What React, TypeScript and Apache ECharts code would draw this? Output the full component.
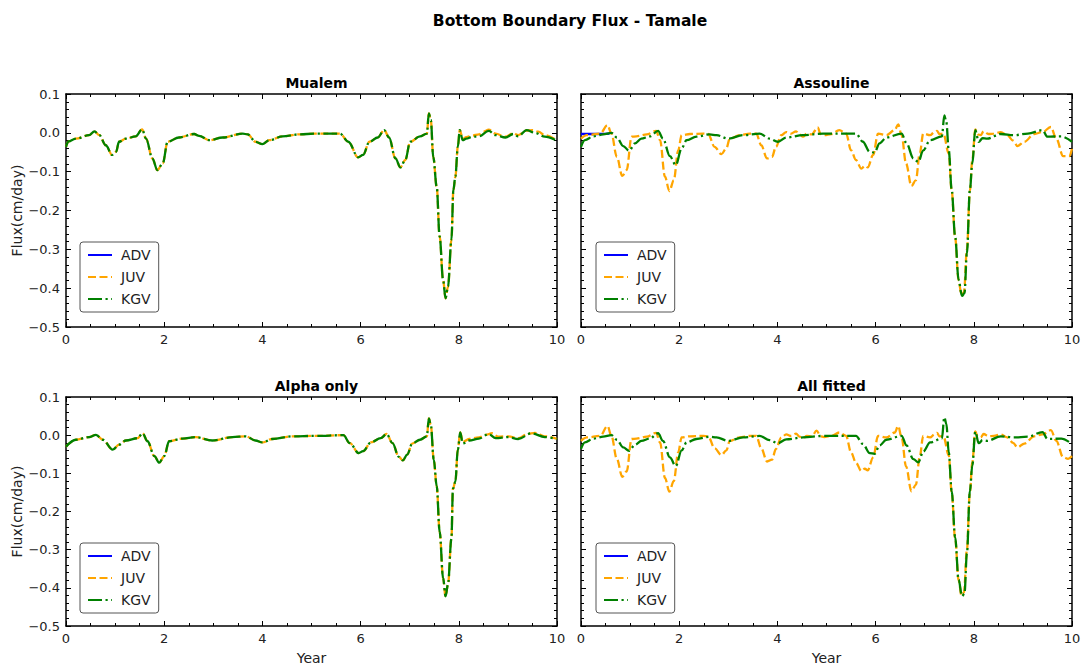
import React, { useEffect, useRef } from 'react';
import * as echarts from 'echarts';

const mainTitle = 'Bottom Boundary Flux - Tamale';
const panelTitles = ['Mualem', 'Assouline', 'Alpha only', 'All fitted'];
const seriesNames = ['ADV', 'JUV', 'KGV'];
const xLabel = 'Year';
const yLabel = 'Flux(cm/day)';
const xRange = [0, 10];
const yRange = [-0.5, 0.1];

// ---- Mualem ----
const mualemADV: number[][] = [];
const mualemKGV = [[0,-0.036],[0.05,-0.022],[0.2,-0.015],[0.47,-0.006],[0.58,0.004],[0.68,-0.006],[0.81,-0.032],[0.94,-0.057],[1.02,-0.049],[1.08,-0.023],[1.22,-0.015],[1.42,-0.009],[1.55,0.009],[1.63,-0.015],[1.76,-0.066],[1.86,-0.096],[1.97,-0.079],[2.07,-0.023],[2.3,-0.012],[2.61,-0.003],[2.71,-0.008],[2.92,-0.019],[3.19,-0.012],[3.6,-0.002],[3.7,-0.004],[3.86,-0.023],[4.0,-0.029],[4.14,-0.019],[4.41,-0.009],[4.75,-0.004],[5.08,-0.002],[5.58,-0.002],[5.75,-0.023],[5.95,-0.063],[6.05,-0.057],[6.18,-0.023],[6.35,-0.012],[6.48,0.007],[6.58,-0.012],[6.71,-0.066],[6.81,-0.089],[6.91,-0.07],[7.01,-0.023],[7.21,-0.009],[7.35,-0.002],[7.39,0.05],[7.43,0.033],[7.48,-0.062],[7.55,-0.139],[7.61,-0.267],[7.68,-0.379],[7.73,-0.426],[7.78,-0.396],[7.85,-0.276],[7.89,-0.147],[7.93,-0.113],[7.98,-0.036],[8.02,0.007],[8.08,-0.019],[8.15,-0.015],[8.28,-0.01],[8.41,-0.009],[8.61,0.005],[8.75,-0.006],[8.95,-0.012],[9.11,-0.003],[9.21,-0.009],[9.38,0.007],[9.55,0],[9.75,-0.01],[10,-0.02]];
const mualemJUV = [[0,-0.036],[0.05,-0.022],[0.2,-0.015],[0.47,-0.006],[0.58,0.004],[0.68,-0.006],[0.81,-0.032],[0.94,-0.057],[1.02,-0.049],[1.08,-0.023],[1.22,-0.015],[1.42,-0.009],[1.55,0.009],[1.63,-0.015],[1.76,-0.066],[1.86,-0.096],[1.97,-0.079],[2.07,-0.023],[2.3,-0.012],[2.61,-0.003],[2.71,-0.008],[2.92,-0.019],[3.19,-0.012],[3.6,-0.002],[3.7,-0.004],[3.86,-0.023],[4.0,-0.029],[4.14,-0.019],[4.41,-0.009],[4.75,-0.004],[5.08,-0.002],[5.58,-0.002],[5.75,-0.023],[5.95,-0.063],[6.05,-0.057],[6.18,-0.023],[6.35,-0.012],[6.48,0.007],[6.58,-0.012],[6.71,-0.066],[6.81,-0.089],[6.91,-0.07],[7.01,-0.023],[7.21,-0.009],[7.35,-0.002],[7.39,0.05],[7.43,0.033],[7.48,-0.062],[7.55,-0.139],[7.61,-0.267],[7.68,-0.379],[7.73,-0.426],[7.78,-0.396],[7.85,-0.276],[7.89,-0.147],[7.93,-0.113],[7.98,-0.036],[8.02,0.007],[8.08,-0.016],[8.15,-0.011],[8.28,-0.007],[8.41,-0.004],[8.5,0.003],[8.61,0.008],[8.75,-0.002],[8.95,-0.01],[9.11,-0.001],[9.21,-0.006],[9.38,0.006],[9.5,0.007],[9.62,0.003],[9.75,-0.006],[10,-0.02]];

// ---- Assouline ----
const assoulineADV = [[0,-0.003],[0.3,-0.003],[0.58,-0.002]];
const assoulineJUV = [[0,-0.015],[0.12,-0.006],[0.39,-0.002],[0.54,0.02],[0.62,-0.002],[0.73,-0.062],[0.84,-0.111],[0.93,-0.096],[1.03,-0.01],[1.13,-0.009],[1.34,-0.004],[1.53,0.005],[1.61,-0.019],[1.71,-0.113],[1.8,-0.15],[1.89,-0.122],[1.98,-0.045],[2.05,-0.006],[2.22,-0.003],[2.49,-0.002],[2.59,-0.003],[2.72,-0.036],[2.86,-0.055],[2.96,-0.04],[3.03,-0.015],[3.23,-0.006],[3.44,-0.002],[3.57,-0.002],[3.67,-0.032],[3.79,-0.066],[3.89,-0.062],[3.97,-0.036],[4.08,-0.006],[4.18,0.002],[4.28,-0.002],[4.38,0.004],[4.45,-0.004],[4.52,-0.01],[4.6,-0.002],[4.7,-0.004],[4.82,0.014],[4.88,-0.003],[4.95,-0.006],[5.1,-0.003],[5.26,0.007],[5.4,-0.002],[5.5,-0.045],[5.6,-0.07],[5.71,-0.092],[5.78,-0.085],[5.84,-0.089],[5.95,-0.057],[6.05,-0.002],[6.22,-0.006],[6.39,0.007],[6.46,0.022],[6.53,-0.006],[6.62,-0.079],[6.73,-0.137],[6.82,-0.122],[6.9,-0.053],[6.97,-0.002],[7.11,-0.006],[7.2,0.002],[7.25,0.005],[7.3,-0.003],[7.38,-0.002],[7.49,-0.053],[7.55,-0.15],[7.62,-0.27],[7.69,-0.38],[7.75,-0.418],[7.8,-0.41],[7.86,-0.3],[7.92,-0.15],[7.97,-0.07],[8.03,0.009],[8.08,-0.004],[8.14,-0.006],[8.2,0.004],[8.3,-0.003],[8.41,-0.002],[8.55,0.002],[8.68,-0.006],[8.8,-0.02],[8.89,-0.034],[9.03,-0.023],[9.23,-0.003],[9.4,0.002],[9.57,0.015],[9.68,-0.015],[9.82,-0.06],[9.95,-0.06],[10,-0.04]];
const assoulineKGV = [[0,-0.036],[0.08,-0.019],[0.25,-0.009],[0.45,-0.004],[0.62,0],[0.73,-0.012],[0.86,-0.034],[0.98,-0.046],[1.1,-0.027],[1.23,-0.015],[1.4,-0.009],[1.57,0.005],[1.67,-0.015],[1.81,-0.06],[1.93,-0.083],[2.05,-0.04],[2.15,-0.019],[2.35,-0.01],[2.62,-0.004],[2.76,-0.006],[3.0,-0.015],[3.3,-0.006],[3.64,-0.002],[3.84,-0.015],[4.01,-0.023],[4.18,-0.012],[4.52,-0.006],[4.93,-0.002],[5.6,-0.002],[5.74,-0.023],[5.88,-0.049],[5.98,-0.051],[6.08,-0.027],[6.22,-0.012],[6.53,-0.002],[6.63,-0.027],[6.77,-0.066],[6.87,-0.075],[6.97,-0.045],[7.11,-0.019],[7.35,-0.009],[7.4,0.045],[7.44,0.028],[7.49,-0.045],[7.55,-0.147],[7.62,-0.267],[7.69,-0.379],[7.76,-0.42],[7.81,-0.413],[7.86,-0.31],[7.92,-0.147],[7.97,-0.079],[8.03,0.007],[8.1,-0.023],[8.18,-0.014],[8.27,-0.015],[8.55,-0.003],[8.82,-0.006],[9.1,-0.002],[9.4,0.007],[9.5,-0.01],[9.78,-0.009],[10,-0.023]];

// ---- Alpha only ----
const alphaADV: number[][] = [];
const alphaKGV = [[0,-0.03],[0.2,-0.012],[0.47,-0.005],[0.61,0.001],[0.75,-0.012],[0.95,-0.038],[1.08,-0.025],[1.22,-0.014],[1.46,-0.008],[1.56,0.005],[1.66,-0.016],[1.8,-0.055],[1.9,-0.072],[2.0,-0.055],[2.1,-0.016],[2.37,-0.009],[2.64,-0.005],[2.98,-0.014],[3.39,-0.005],[3.66,-0.003],[3.86,-0.014],[4.0,-0.019],[4.2,-0.01],[4.61,-0.003],[5.08,-0.002],[5.65,0],[5.78,-0.021],[5.96,-0.047],[6.05,-0.042],[6.21,-0.019],[6.41,-0.008],[6.53,0.003],[6.65,-0.021],[6.78,-0.057],[6.86,-0.066],[6.95,-0.051],[7.05,-0.022],[7.21,-0.012],[7.35,-0.003],[7.39,0.044],[7.43,0.027],[7.49,-0.064],[7.55,-0.133],[7.61,-0.253],[7.68,-0.374],[7.73,-0.422],[7.78,-0.391],[7.85,-0.271],[7.88,-0.141],[7.93,-0.122],[7.98,-0.038],[8.03,0.007],[8.08,-0.022],[8.21,-0.014],[8.41,-0.009],[8.61,0.003],[8.75,-0.008],[9.01,-0.005],[9.21,-0.01],[9.48,0.005],[9.75,-0.005],[10,-0.01]];
const alphaJUV = [[0,-0.03],[0.2,-0.012],[0.47,-0.005],[0.61,0.001],[0.75,-0.012],[0.95,-0.038],[1.08,-0.025],[1.22,-0.014],[1.46,-0.008],[1.56,0.005],[1.66,-0.016],[1.8,-0.055],[1.9,-0.072],[2.0,-0.055],[2.1,-0.016],[2.37,-0.009],[2.64,-0.005],[2.98,-0.014],[3.39,-0.005],[3.66,-0.003],[3.86,-0.014],[4.0,-0.019],[4.2,-0.01],[4.61,-0.003],[5.08,-0.002],[5.65,0],[5.78,-0.021],[5.96,-0.047],[6.05,-0.042],[6.21,-0.019],[6.41,-0.008],[6.53,0.003],[6.65,-0.021],[6.78,-0.057],[6.86,-0.066],[6.95,-0.051],[7.05,-0.022],[7.21,-0.012],[7.35,-0.003],[7.39,0.044],[7.43,0.027],[7.49,-0.064],[7.55,-0.133],[7.61,-0.253],[7.68,-0.374],[7.73,-0.422],[7.78,-0.391],[7.85,-0.271],[7.88,-0.141],[7.93,-0.122],[7.98,-0.038],[8.03,0.007],[8.08,-0.018],[8.21,-0.01],[8.41,-0.006],[8.55,0.001],[8.68,0.005],[8.8,-0.004],[9.01,-0.003],[9.21,-0.008],[9.4,0.003],[9.55,0.006],[9.75,-0.003],[10,-0.01]];

// ---- All fitted ----
const allFittedADV: number[][] = [];
const allFittedJUV = [[0,-0.015],[0.12,-0.006],[0.39,-0.002],[0.54,0.024],[0.62,-0.002],[0.73,-0.062],[0.84,-0.109],[0.93,-0.095],[1.03,-0.01],[1.13,-0.009],[1.34,-0.004],[1.53,0.006],[1.61,-0.019],[1.71,-0.112],[1.8,-0.148],[1.89,-0.12],[1.98,-0.045],[2.05,-0.006],[2.22,-0.003],[2.49,-0.002],[2.59,-0.003],[2.72,-0.034],[2.86,-0.052],[2.96,-0.04],[3.03,-0.015],[3.23,-0.006],[3.44,-0.002],[3.57,-0.002],[3.67,-0.034],[3.79,-0.069],[3.89,-0.064],[3.97,-0.036],[4.08,-0.006],[4.18,0.002],[4.28,-0.002],[4.38,0.004],[4.45,-0.004],[4.52,-0.008],[4.6,-0.002],[4.7,-0.003],[4.8,0.012],[4.88,-0.003],[4.95,-0.005],[5.1,-0.002],[5.26,0.007],[5.4,-0.002],[5.5,-0.045],[5.6,-0.072],[5.71,-0.094],[5.78,-0.088],[5.84,-0.092],[5.95,-0.058],[6.05,-0.002],[6.22,-0.006],[6.39,0.007],[6.46,0.024],[6.53,-0.006],[6.62,-0.082],[6.73,-0.147],[6.82,-0.13],[6.9,-0.055],[6.97,-0.002],[7.11,-0.006],[7.2,0.002],[7.25,0.006],[7.3,-0.003],[7.38,-0.002],[7.49,-0.053],[7.55,-0.15],[7.62,-0.27],[7.69,-0.38],[7.75,-0.42],[7.8,-0.412],[7.86,-0.3],[7.92,-0.15],[7.97,-0.07],[8.03,0.01],[8.08,-0.004],[8.14,-0.006],[8.2,0.003],[8.3,-0.003],[8.41,-0.002],[8.55,0.002],[8.68,-0.006],[8.8,-0.02],[8.89,-0.032],[9.03,-0.022],[9.23,-0.003],[9.4,0.002],[9.57,0.013],[9.68,-0.015],[9.82,-0.058],[9.92,-0.062],[10,-0.055]];
const allFittedKGV = [[0,-0.036],[0.08,-0.019],[0.25,-0.009],[0.45,-0.004],[0.62,0],[0.73,-0.012],[0.86,-0.032],[0.98,-0.041],[1.1,-0.025],[1.23,-0.015],[1.4,-0.009],[1.57,0.005],[1.67,-0.015],[1.81,-0.058],[1.93,-0.081],[2.05,-0.04],[2.15,-0.019],[2.35,-0.01],[2.62,-0.004],[2.76,-0.006],[3.0,-0.015],[3.3,-0.006],[3.64,-0.002],[3.84,-0.013],[4.01,-0.021],[4.18,-0.011],[4.52,-0.006],[4.93,-0.002],[5.6,-0.002],[5.74,-0.023],[5.88,-0.047],[5.98,-0.049],[6.08,-0.027],[6.22,-0.012],[6.53,-0.002],[6.63,-0.027],[6.77,-0.063],[6.87,-0.071],[6.97,-0.043],[7.11,-0.019],[7.35,-0.009],[7.4,0.047],[7.44,0.03],[7.49,-0.045],[7.55,-0.147],[7.62,-0.267],[7.69,-0.379],[7.76,-0.422],[7.81,-0.415],[7.86,-0.31],[7.92,-0.147],[7.97,-0.079],[8.03,0.009],[8.1,-0.021],[8.18,-0.013],[8.27,-0.015],[8.55,-0.003],[8.82,-0.006],[9.1,-0.004],[9.4,0.008],[9.5,-0.01],[9.78,-0.009],[10,-0.023]];

const panelData = [
  [mualemADV, mualemJUV, mualemKGV],
  [assoulineADV, assoulineJUV, assoulineKGV],
  [alphaADV, alphaJUV, alphaKGV],
  [allFittedADV, allFittedJUV, allFittedKGV],
];

const colors = ['#0000ff', '#ffa500', '#008000'];
const dashes: any[] = ['solid', [8, 3.5], [14, 3.5, 2.2, 3.5]];

const FONT = 'DejaVu Sans';

export default function App() {
  const ref = useRef<HTMLDivElement>(null);
  useEffect(() => {
    if (!ref.current) return;
    const chart = echarts.init(ref.current, null, { renderer: 'svg' });

    const grids = [
      { left: 66, top: 94, width: 491, height: 233 },
      { left: 581, top: 94, width: 491, height: 233 },
      { left: 66, top: 397, width: 491, height: 232 },
      { left: 581, top: 397, width: 491, height: 232 },
    ];
    const legendPos = [
      { left: 80, top: 242 },
      { left: 596, top: 242 },
      { left: 80, top: 543 },
      { left: 596, top: 543 },
    ];

    const yFmt = (v: number) => {
      const r = Math.round(v * 10) / 10;
      if (Math.abs(r) < 1e-9) return '0.0';
      return r.toFixed(1).replace('-', '\u2212');
    };

    const axisLine = { show: true, onZero: false, lineStyle: { color: '#000', width: 1.5 } };
    const tick = { show: true, inside: true, length: 5, lineStyle: { color: '#000', width: 1 } };
    const minor = (n: number) => ({ show: true, splitNumber: n, length: 3, lineStyle: { color: '#000', width: 1 } });

    const xAxis: any[] = [];
    const yAxis: any[] = [];
    const series: any[] = [];
    grids.forEach((g, i) => {
      xAxis.push({
        type: 'value', gridIndex: i, position: 'bottom', min: xRange[0], max: xRange[1], interval: 2,
        axisLine, axisTick: tick, minorTick: minor(4), splitLine: { show: false },
        axisLabel: { show: true, fontSize: 13, color: '#222', fontFamily: FONT, margin: 6 },
        name: i >= 2 ? xLabel : '', nameLocation: 'middle', nameGap: 25,
        nameTextStyle: { fontSize: 14, color: '#222', fontFamily: FONT },
      });
      xAxis.push({
        type: 'value', gridIndex: i, position: 'top', min: xRange[0], max: xRange[1], interval: 2,
        axisLine, axisTick: tick, minorTick: minor(4), splitLine: { show: false },
        axisLabel: { show: false },
      });
      yAxis.push({
        type: 'value', gridIndex: i, position: 'left', min: yRange[0], max: yRange[1], interval: 0.1,
        axisLine, axisTick: tick, minorTick: minor(5), splitLine: { show: false },
        axisLabel: { show: i % 2 === 0, fontSize: 13, color: '#222', fontFamily: FONT, margin: 6, formatter: yFmt },
        name: i % 2 === 0 ? yLabel : '', nameLocation: 'middle', nameGap: 42,
        nameTextStyle: { fontSize: 14, color: '#222', fontFamily: FONT },
      });
      yAxis.push({
        type: 'value', gridIndex: i, position: 'right', min: yRange[0], max: yRange[1], interval: 0.1,
        axisLine, axisTick: tick, minorTick: minor(5), splitLine: { show: false },
        axisLabel: { show: false },
      });
      panelData[i].forEach((d, k) => {
        series.push({
          type: 'line', name: seriesNames[k], data: d,
          xAxisIndex: i * 2, yAxisIndex: i * 2,
          symbol: 'none', smooth: 0.35, smoothMonotone: 'x',
          lineStyle: { color: colors[k], width: 2.3, type: dashes[k] },
          itemStyle: { color: colors[k] },
          z: 2 + k,
        });
      });
    });

    const titles: any[] = [
      { text: mainTitle, left: 565, top: 8, textAlign: 'center',
        textStyle: { fontSize: 15.5, fontWeight: 'bold', color: '#000', fontFamily: FONT } },
    ];
    panelTitles.forEach((t, i) => {
      titles.push({
        text: t, left: grids[i].left + grids[i].width / 2, top: grids[i].top - 23, textAlign: 'center',
        textStyle: { fontSize: 14, fontWeight: 'bold', color: '#000', fontFamily: FONT },
      });
    });

    const legends = legendPos.map((p) => ({
      data: seriesNames, orient: 'vertical', left: p.left, top: p.top,
      itemWidth: 24, itemHeight: 14, itemGap: 8, padding: [6, 8, 6, 7],
      borderColor: '#555', borderWidth: 1, borderRadius: 3, backgroundColor: '#fff',
      itemStyle: { color: 'transparent', borderWidth: 0, opacity: 0 },
      textStyle: { fontSize: 14, color: '#222', fontFamily: FONT, padding: [0, 0, 0, 4] },
      selectedMode: false,
    }));

    chart.setOption({
      animation: false,
      backgroundColor: '#fff',
      title: titles,
      legend: legends,
      grid: grids,
      xAxis, yAxis, series,
    });
    return () => chart.dispose();
  }, []);
  return <div ref={ref} style={{ position: 'fixed', left: 0, top: 0, width: 1085, height: 666 }} />;
}
